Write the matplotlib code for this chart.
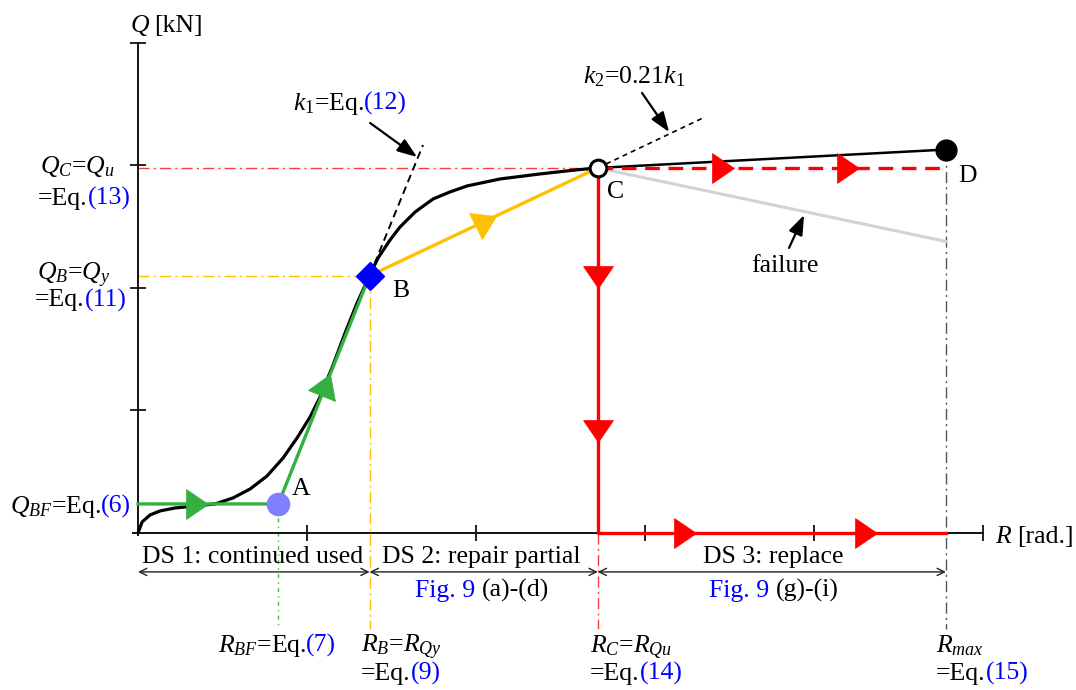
import matplotlib
matplotlib.use("Agg")
import matplotlib.pyplot as plt
from matplotlib.markers import MarkerStyle
from matplotlib.transforms import Affine2D
import numpy as np

plt.rcParams["font.family"] = ["Liberation Serif", "DejaVu Serif"]
plt.rcParams["mathtext.fontset"] = "custom"
plt.rcParams["mathtext.rm"] = "Liberation Serif"
plt.rcParams["mathtext.it"] = "Liberation Serif:italic"
plt.rcParams["mathtext.bf"] = "Liberation Serif:bold"

# ---- backbone curve (schematic units of R and Q) ----
curve_R = [0.000, 0.024, 0.071, 0.130, 0.219, 0.337, 0.456, 0.562, 0.663,
           0.763, 0.858, 0.941, 1.018, 1.077, 1.154, 1.225, 1.296, 1.370,
           1.420, 1.491, 1.550, 1.639, 1.746, 1.846, 1.947, 2.142, 2.379,
           2.586, 2.720]
curve_Q = [0.000, 0.090, 0.147, 0.180, 0.204, 0.220, 0.237, 0.286, 0.359,
           0.465, 0.612, 0.776, 0.947, 1.110, 1.371, 1.633, 1.878, 2.100,
           2.245, 2.392, 2.498, 2.620, 2.727, 2.784, 2.833, 2.890, 2.931,
           2.963, 2.980]

# ---- characteristic points ----
R_A, Q_BF = 0.83, 0.237      # point A (bearing friction)
R_B, Q_B = 1.37, 2.10        # point B (yield)
R_C, Q_C = 2.72, 2.98        # point C (ultimate)
R_max, Q_D = 4.78, 3.13      # point D
Q_fail = 2.38                # end of failure branch
k1_tip = (1.686, 3.167)      # end of initial-stiffness line
k2_tip = (3.355, 3.396)      # end of post-yield stiffness line

x_ticks = [1, 2, 3, 4, 5]
y_ticks = [1, 2, 3, 4]

FS = 18.5
GREEN = "#33b040"
ORANGE = "#ffc000"
RED = "#ff0000"
BLUE = "#0000ff"

fig = plt.figure(figsize=(10.76, 6.90), dpi=100)
ax = fig.add_axes([0, 0, 1, 1])
ax.set_xlim(-0.817, 5.550)
ax.set_ylim(-1.282, 4.351)

# axes drawn through the origin
for s in ("top", "right"):
    ax.spines[s].set_visible(False)
ax.spines["left"].set_position(("data", 0))
ax.spines["bottom"].set_position(("data", 0))
ax.spines["left"].set_bounds(-0.02, y_ticks[-1])
ax.spines["bottom"].set_bounds(-0.03, x_ticks[-1])
for s in ("left", "bottom"):
    ax.spines[s].set_linewidth(1.4)
    ax.spines[s].set_color("#111111")
ax.set_xticks(x_ticks)
ax.set_yticks(y_ticks)
ax.set_xticklabels([])
ax.set_yticklabels([])
ax.tick_params(direction="inout", length=12, width=1.3, color="#111111")
ax.patch.set_visible(False)

# ---- dash-dot guide lines ----
g_bot = -0.78
dd = [8, 3, 1.5, 3]
ax.plot([0, R_C], [Q_C, Q_C], color="#ff3b3b", lw=1.0, dashes=dd, zorder=1)
ax.plot([0, R_B], [Q_B, Q_B], color=ORANGE, lw=1.0, dashes=dd, zorder=1)
ax.plot([R_B, R_B], [Q_B, g_bot], color=ORANGE, lw=1.0, dashes=dd, zorder=1)
ax.plot([R_A, R_A], [Q_BF, g_bot], color="#44c044", lw=1.0, dashes=[3, 3, 1, 3], zorder=1)
ax.plot([R_C, R_C], [0, g_bot], color="#ff3b3b", lw=1.0, dashes=dd, zorder=1)
ax.plot([R_max, R_max], [Q_D, g_bot], color="#555555", lw=1.0, dashes=dd, zorder=1)

# ---- stiffness lines ----
ax.plot([R_B, k1_tip[0]], [Q_B, k1_tip[1]], color="black", lw=1.4, dashes=[4, 2.5], zorder=2)
ax.plot([R_C, k2_tip[0]], [Q_C, k2_tip[1]], color="black", lw=1.2, dashes=[3, 2.5], zorder=2)

# ---- failure branch ----
ax.plot([R_C, R_max], [Q_C, Q_fail], color="#d3d3d3", lw=2.2, zorder=2)

# ---- backbone ----
ax.plot(curve_R, curve_Q, color="black", lw=2.3, zorder=3, solid_capstyle="round")
ax.plot([R_C, R_max], [Q_C, Q_D], color="black", lw=1.8, zorder=3)

# ---- damage-state paths ----
ax.plot([0, R_A, R_B], [Q_BF, Q_BF, Q_B], color=GREEN, lw=2.4, zorder=4)
ax.plot([R_B, R_C], [Q_B, Q_C], color=ORANGE, lw=2.4, zorder=4)
ax.plot([R_C, R_C, R_max], [Q_C, 0, 0], color=RED, lw=2.4, zorder=4)
ax.plot([R_C, R_max], [Q_C, Q_C], color=RED, lw=2.4, dashes=[4.4, 2.6], zorder=4)


def dir_arrow(p0, p1, frac, color):
    """Triangular direction marker placed on the segment p0 -> p1."""
    x = p0[0] + frac * (p1[0] - p0[0])
    y = p0[1] + frac * (p1[1] - p0[1])
    d0 = ax.transData.transform(p0)
    d1 = ax.transData.transform(p1)
    ang = np.degrees(np.arctan2(d1[1] - d0[1], d1[0] - d0[0]))
    m = MarkerStyle(">", transform=Affine2D().scale(0.78, 1.0).rotate_deg(ang))
    ax.plot([x], [y], ls="none", marker=m, ms=21, color=color, mec=color,
            mew=0.5, zorder=6)


dir_arrow((0, Q_BF), (R_A, Q_BF), 0.42, GREEN)
dir_arrow((R_A, Q_BF), (R_B, Q_B), 0.52, GREEN)
dir_arrow((R_B, Q_B), (R_C, Q_C), 0.51, ORANGE)
dir_arrow((R_C, Q_C), (R_C, 0), 0.30, RED)
dir_arrow((R_C, Q_C), (R_C, 0), 0.72, RED)
dir_arrow((R_C, 0), (R_max, 0), 0.25, RED)
dir_arrow((R_C, 0), (R_max, 0), 0.77, RED)
dir_arrow((R_C, Q_C), (R_max, Q_C), 0.36, RED)
dir_arrow((R_C, Q_C), (R_max, Q_C), 0.72, RED)

# ---- characteristic point markers ----
ax.plot([R_A], [Q_BF], "o", ms=16, color="#8080ff", mec="#8080ff", zorder=7)
ax.plot([R_B], [Q_B], "D", ms=14, color=BLUE, mec=BLUE, zorder=7)
ax.plot([R_C], [Q_C], "o", ms=12, mfc="white", mec="black", mew=2.2, zorder=7)
ax.plot([R_max], [Q_D], "o", ms=15, color="black", zorder=7)

# ---- damage-state ranges ----
y_ds = -0.318
for a, b in ((0, R_B), (R_B, R_C), (R_C, R_max)):
    ax.annotate("", xy=(b, y_ds), xytext=(a, y_ds),
                arrowprops=dict(arrowstyle="<->", lw=1.0, color="#222222",
                                shrinkA=0, shrinkB=0, mutation_scale=13))

# ---- leader arrows ----
lead = dict(arrowstyle="-|>,head_length=0.6,head_width=0.22", lw=1.6,
            color="black", shrinkA=0, shrinkB=0, mutation_scale=20)
ax.annotate("", xy=(1.651, 3.069), xytext=(1.373, 3.347), arrowprops=lead)
ax.annotate("", xy=(3.142, 3.273), xytext=(2.982, 3.592), arrowprops=lead)
ax.annotate("", xy=(3.941, 2.596), xytext=(3.852, 2.327), arrowprops=lead)

# ---- text ----
renderer = fig.canvas.get_renderer()
em_px = FS * fig.dpi / 72


def rich(x, y, parts, ha="left", size=FS):
    """Multi-coloured text on one baseline; parts are (text, colour[, gap_em])."""
    texts, gaps = [], []
    for p in parts:
        s, c = p[0], p[1]
        gap = p[2] * em_px if len(p) > 2 else 0.0
        texts.append(ax.text(x, y, s, color=c, fontsize=size,
                             ha="left", va="baseline", zorder=8))
        gaps.append(gap)
    widths = [t.get_window_extent(renderer).width for t in texts]
    total = sum(widths) + sum(gaps)
    x0, y0 = ax.transData.transform((x, y))
    if ha == "center":
        x0 -= total / 2
    inv = ax.transData.inverted()
    for t, w, g in zip(texts, widths, gaps):
        x0 += g
        t.set_position(inv.transform((x0, y0)))
        x0 += w


K = "black"
rich(-0.050, 4.090, [("$Q$", K), ("[kN]", K, 0.18)])
rich(5.071, -0.082, [("$R$", K), ("[rad.]", K, 0.18)])

rich(-0.580, 2.935, [("$Q_C$=$Q_u$", K)])
rich(-0.592, 2.680, [("=Eq.", K), ("(13)", BLUE)])
rich(-0.598, 2.065, [("$Q_B$=$Q_y$", K)])
rich(-0.609, 1.850, [("=Eq.", K), ("(11)", BLUE)])
rich(-0.757, 0.163, [("$Q_{BF}$=Eq.", K), ("(6)", BLUE)])

rich(0.917, 3.453, [(r"$k_\mathit{1}$=Eq.", K), ("(12)", BLUE)])
rich(2.633, 3.673, [(r"$k_\mathit{2}$=0.21$k_\mathit{1}$", K)])

rich(0.911, 0.310, [("A", K)])
rich(1.503, 1.927, [("B", K)])
rich(2.775, 2.735, [("C", K)])
rich(4.852, 2.865, [("D", K)])
rich(3.828, 2.131, [("failure", K)], ha="center")

rich(0.680, -0.245, [("DS 1: continued used", K)], ha="center")
rich(2.030, -0.245, [("DS 2: repair partial", K)], ha="center")
rich(3.757, -0.245, [("DS 3: replace", K)], ha="center")
rich(2.036, -0.522, [("Fig. 9", BLUE), ("(a)-(d)", K, 0.25)], ha="center")
rich(3.763, -0.522, [("Fig. 9", BLUE), ("(g)-(i)", K, 0.25)], ha="center")

rich(0.473, -0.971, [("$R_{BF}$=Eq.", K), ("(7)", BLUE)])
rich(1.320, -0.971, [("$R_B$=$R_{Qy}$", K)])
rich(1.320, -1.200, [("=Eq.", K), ("(9)", BLUE)])
rich(2.675, -0.971, [("$R_C$=$R_{Qu}$", K)])
rich(2.675, -1.200, [("=Eq.", K), ("(14)", BLUE)])
rich(4.722, -0.971, [("$R_{max}$", K)])
rich(4.722, -1.200, [("=Eq.", K), ("(15)", BLUE)])

fig.savefig("out.png", dpi=100)
